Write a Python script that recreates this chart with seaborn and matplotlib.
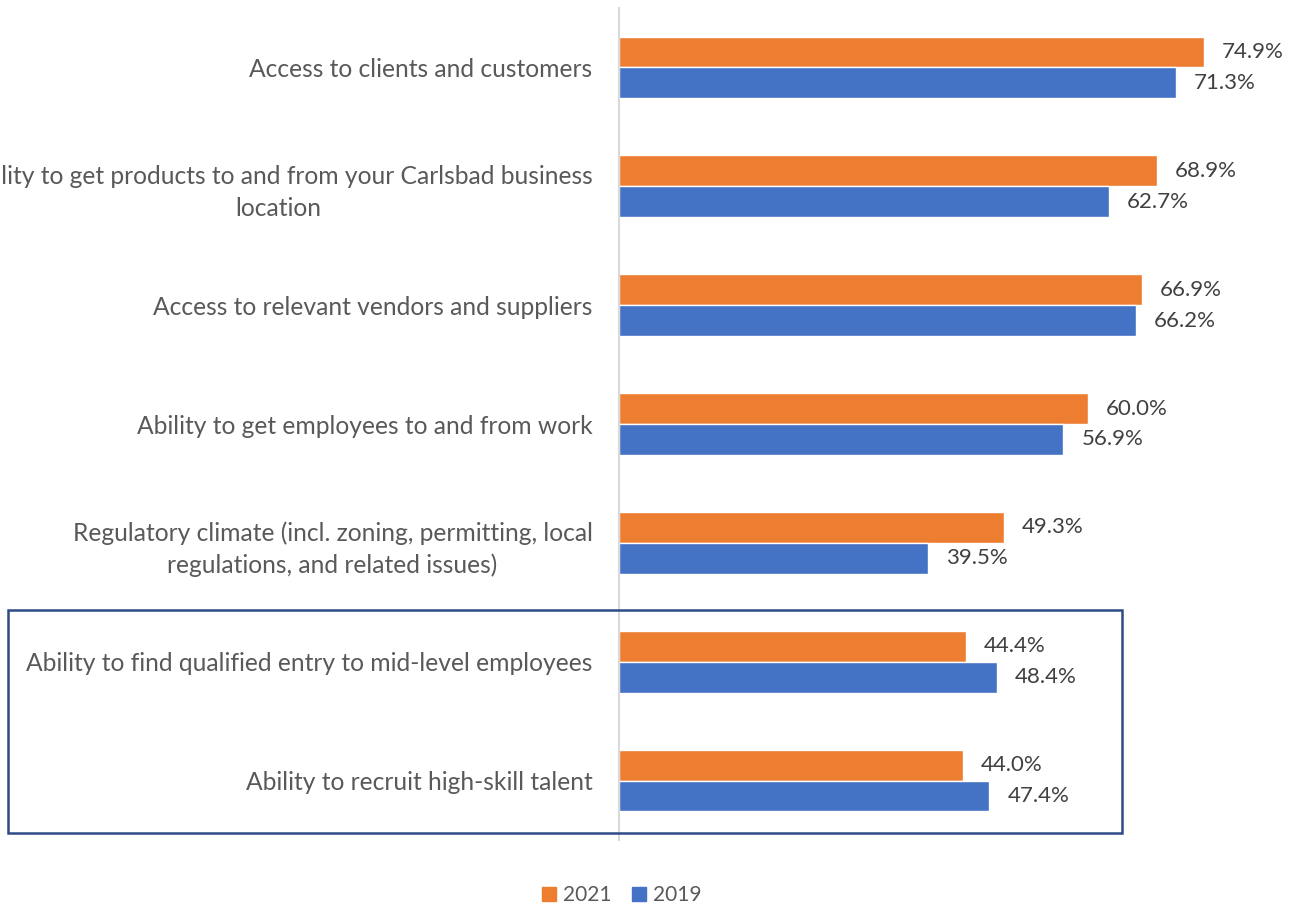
import pandas as pd
import seaborn as sns
import matplotlib.pyplot as plt
from matplotlib.patches import Rectangle, Patch

categories = [
    "Access to clients and customers",
    "Ability to get products to and from your Carlsbad business\nlocation",
    "Access to relevant vendors and suppliers",
    "Ability to get employees to and from work",
    "Regulatory climate (incl. zoning, permitting, local\nregulations, and related issues)",
    "Ability to find qualified entry to mid-level employees",
    "Ability to recruit high-skill talent",
]
vals_2021 = [74.9, 68.9, 66.9, 60.0, 49.3, 44.4, 44.0]
vals_2019 = [71.3, 62.7, 66.2, 56.9, 39.5, 48.4, 47.4]
years = ["2021", "2019"]
colors = ["#ED7D31", "#4472C4"]

df = pd.DataFrame({
    "factor": categories * 2,
    "year": ["2021"] * len(categories) + ["2019"] * len(categories),
    "pct": vals_2021 + vals_2019,
})

sns.set_style("white")
plt.rcParams['font.family'] = ['Lato', 'DejaVu Sans']

fig = plt.figure(figsize=(12.96, 9.05), dpi=100)
ax = fig.add_axes([0.4776, 0.0718, 0.5123, 0.9193])

sns.barplot(data=df, y="factor", x="pct", hue="year", hue_order=years,
            palette=colors, order=categories, width=0.52, orient="h",
            saturation=1, ax=ax, legend=False)

for c in ax.containers:
    ax.bar_label(c, fmt="%.1f%%", padding=13, fontsize=16, color="#404040")

ax.set_xlim(0, 85)
ax.set_xlabel("")
ax.set_ylabel("")
ax.set_xticks([])
ax.tick_params(axis="y", length=0, pad=19, labelsize=17.7, labelcolor="#595959")
for t in ax.get_yticklabels():
    t.set_multialignment("center")
    t.set_linespacing(1.45)
for s in ["top", "right", "bottom"]:
    ax.spines[s].set_visible(False)
ax.spines["left"].set_color("#D9D9D9")
ax.spines["left"].set_linewidth(1.5)

# highlight box around the workforce items
fig.patches.append(Rectangle((8 / 1296, 1 - 833 / 905), 1114 / 1296, 223 / 905,
                             transform=fig.transFigure, fill=False,
                             edgecolor="#2F4B85", linewidth=1.8))

handles = [Patch(facecolor=c, edgecolor=c) for c in colors]
fig.legend(handles, years, loc="center", bbox_to_anchor=(0.48, 1 - 895 / 905),
           ncol=2, frameon=False, fontsize=15, handlelength=0.65, handleheight=0.65,
           handletextpad=0.35, columnspacing=1.0, labelcolor="#595959")

fig.savefig("out.png", dpi=100)
